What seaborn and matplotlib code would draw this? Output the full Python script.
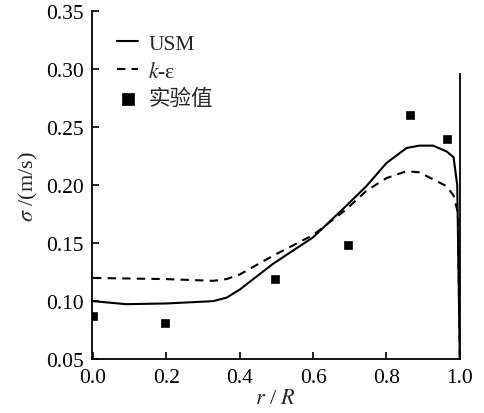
import numpy as np
import pandas as pd
import matplotlib
matplotlib.use("Agg")
import matplotlib.pyplot as plt
import seaborn as sns

# USM model curve
usm_r = [0.0, 0.09, 0.2, 0.327, 0.364, 0.4, 0.49, 0.6, 0.69, 0.745, 0.8, 0.855, 0.89, 0.927, 0.964, 0.983, 0.993, 1.0]
usm_sigma = [0.100, 0.0974, 0.098, 0.100, 0.103, 0.110, 0.132, 0.155, 0.182, 0.199, 0.219, 0.232, 0.234, 0.234, 0.229, 0.224, 0.20, 0.05]

# k-epsilon model curve
ke_r = [0.0, 0.2, 0.327, 0.364, 0.4, 0.49, 0.6, 0.69, 0.745, 0.8, 0.855, 0.89, 0.927, 0.964, 0.983, 0.995, 1.0]
ke_sigma = [0.120, 0.119, 0.1175, 0.119, 0.123, 0.139, 0.157, 0.179, 0.195, 0.206, 0.212, 0.211, 0.205, 0.199, 0.191, 0.176, 0.05]

# experimental values
exp_r = [0.0, 0.195, 0.495, 0.695, 0.864, 0.965]
exp_sigma = [0.087, 0.081, 0.119, 0.148, 0.260, 0.240]

x_ticks = [0.0, 0.2, 0.4, 0.6, 0.8, 1.0]
y_ticks = [0.05, 0.10, 0.15, 0.20, 0.25, 0.30, 0.35]

sns.set_theme(style="ticks")
plt.rcParams['font.family'] = ['Liberation Serif', 'Noto Sans CJK SC', 'DejaVu Sans']
plt.rcParams['mathtext.fontset'] = 'stix'

fig = plt.figure(figsize=(4.84, 4.14), dpi=100)
ax = fig.add_axes([0.19, 0.13, 0.76, 0.841])

usm = pd.DataFrame({"r": usm_r, "sigma": usm_sigma})
ke = pd.DataFrame({"r": ke_r, "sigma": ke_sigma})
exp = pd.DataFrame({"r": exp_r, "sigma": exp_sigma})

sns.lineplot(data=usm, x="r", y="sigma", ax=ax, color="black", linewidth=1.5,
             label="USM", sort=False)
sns.lineplot(data=ke, x="r", y="sigma", ax=ax, color="black", linewidth=1.5,
             linestyle=(0, (4, 3)), label="$k$-ε", sort=False)
sns.scatterplot(data=exp, x="r", y="sigma", ax=ax, color="black", marker="s",
                s=36, edgecolor="black", label="实验值")

ax.set_xlim(-0.003, 1.0)
ax.set_ylim(0.05, 0.35)
ax.set_xticks(x_ticks)
ax.set_yticks(y_ticks)
ax.set_xticklabels([f"{v:.1f}" for v in x_ticks], fontsize=15.5)
ax.set_yticklabels([f"{v:.2f}" for v in y_ticks], fontsize=15.5)
ax.tick_params(direction="in", length=5, width=1.2, colors="black", pad=6)

ax.set_xlabel("$r$ / $R$", fontsize=16, labelpad=2)
ax.set_ylabel("$\\sigma$ /(m/s)", fontsize=16, labelpad=4)

ax.spines["top"].set_visible(False)
ax.spines["right"].set_bounds(0.05, 0.296)
for s in ["left", "bottom", "right"]:
    ax.spines[s].set_color("black")
    ax.spines[s].set_linewidth(1.3)

leg = ax.legend(loc="upper left", bbox_to_anchor=(0.015, 0.99), frameon=False,
                fontsize=15.5, handlelength=1.0, handletextpad=0.45,
                labelspacing=0.35, markerscale=1.5)

fig.savefig("out.png", dpi=100)
